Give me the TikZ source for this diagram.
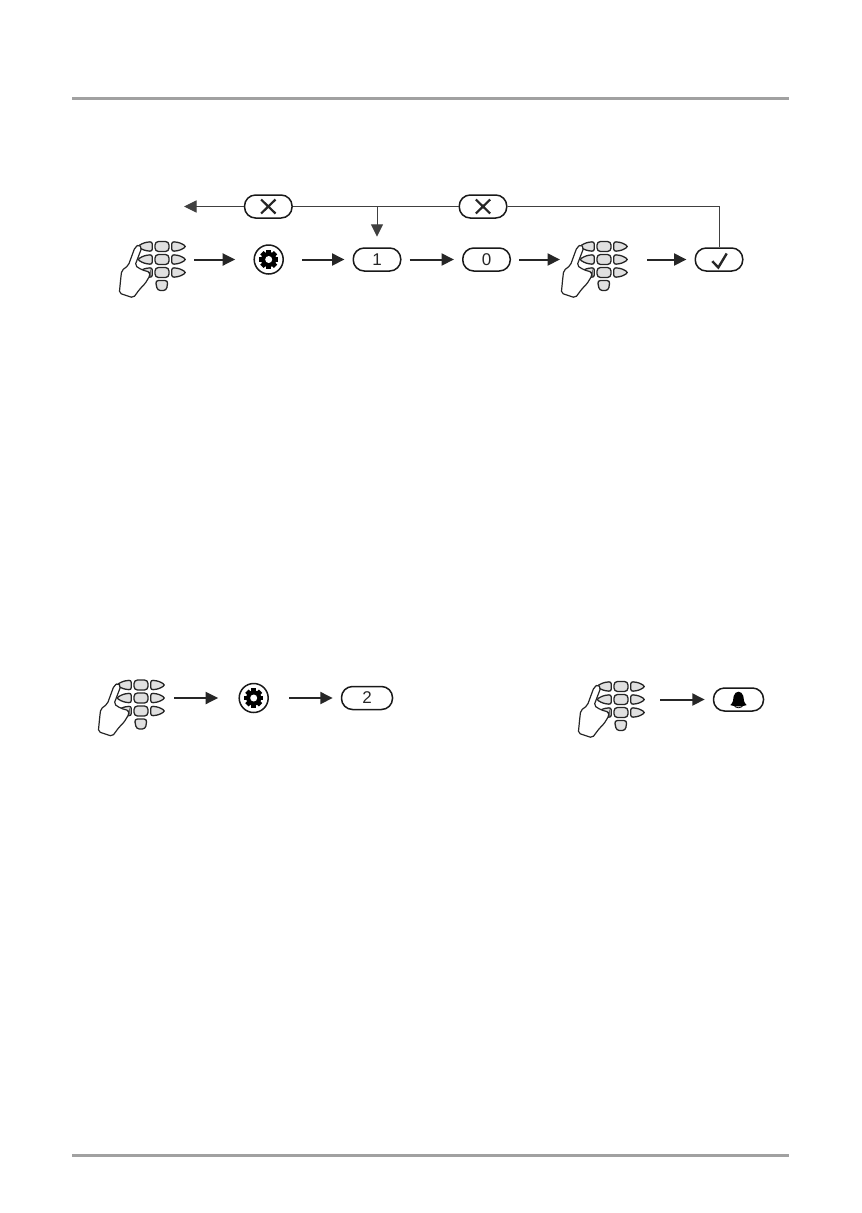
\documentclass[tikz,border=0pt]{standalone}
\usepackage{fontspec}
\setmainfont{Liberation Sans}
\usetikzlibrary{arrows.meta}
\definecolor{keygray}{gray}{0.88}
\definecolor{rulegray}{gray}{0.63}
\tikzset{
  flow/.style={-{Triangle[length=12.5pt,width=12pt]}, line width=2pt, black!85, shorten <=8pt, shorten >=8pt},
  thinflow/.style={-{Triangle[length=12.5pt,width=12pt]}, line width=1pt, black!75},
  thinline/.style={line width=1pt, black!75},
  keybtn/.style={draw=black!90, line width=1.5pt, rounded corners=11pt, minimum width=47.5pt, minimum height=23pt, inner sep=0pt, text=black!85, font=\fontsize{17}{19}\selectfont},
  gearbtn/.style={draw=black!90, circle, line width=1.5pt, minimum size=29pt, inner sep=0pt, outer sep=11pt},
  handbox/.style={minimum width=68pt, minimum height=20pt, inner sep=0pt, outer sep=0pt},
  keycap/.style={draw=black!85, fill=keygray, line width=1.3pt},
  keypad/.pic={
    \begin{scope}[shift={(10,0)}]
    % keys
    \foreach \y in {-13,0,13} {
      \draw[keycap, rounded corners=3.5pt] (-7,\y-5) rectangle (7,\y+5);
      \draw[keycap, rounded corners=2.5pt] (9.7,\y-5) -- (18,\y-3.8) -- (24.4,\y) -- (18,\y+3.8) -- (9.7,\y+5) -- cycle;
      \draw[keycap, rounded corners=2.5pt] (-9.7,\y-5) -- (-18,\y-3.8) -- (-24.8,\y) -- (-18,\y+3.8) -- (-9.7,\y+5) -- cycle;
    }
    \draw[keycap, rounded corners=3pt] (-6.6,21) -- (6,21) -- (4.4,31) -- (-4.6,31) -- cycle;
    % hand
    \draw[draw=black!85, fill=white, line width=1.2pt, rounded corners=2pt] (-42.7,33.7) -- (-41.3,19.3) -- (-40.3,11) -- (-33.7,6) -- (-27,-12.3) -- (-22.7,-15) -- (-20.3,-11.7) -- (-27,6) -- (-20.3,10.3) -- (-12,12.7) -- (-12,16) -- (-17,24.3) -- (-22,29.3) -- (-28.7,38.3) -- cycle;
    \end{scope}
  },
  gearicon/.pic={
    % gear wheel
    \foreach \a in {0,45,...,315} {
      \fill[black, rotate=\a] (-2.4,-9.6) rectangle (2.4,0);
    }
    \fill[black] (0,0) circle (7.6);
    \fill[white] (0,0) circle (3.5);
  },
  crossicon/.pic={
    \draw[line width=2.2pt, black!85] (-7.2,-7) -- (7.2,7) (-7.2,7) -- (7.2,-7);
  },
  checkicon/.pic={
    \draw[line width=2.4pt, black!85] (-6.7,1.7) -- (-0.7,8) -- (7.7,-6);
  },
  bellicon/.pic={
    \draw[line width=0.8pt, black, fill=white] (-5,5) .. controls (-3,9.4) and (3,9.4) .. (5,5);
    \fill[black] (-8.2,5.6) .. controls (-5,3) and (-5.4,0) .. (-4.8,-3.5) .. controls (-4.2,-6.4) and (-2,-7.6) .. (0,-7.8) .. controls (2,-7.6) and (4.2,-6.4) .. (4.8,-3.5) .. controls (5.4,0) and (5,3) .. (8.2,5.6) .. controls (3,7.4) and (-3,7.4) .. (-8.2,5.6) -- cycle;
  }
}
\begin{document}
\begin{tikzpicture}[x=1pt,y=-1pt]
\useasboundingbox (0,0) rectangle (862,1213);

% page rules
\draw[rulegray, line width=3.4pt] (72,98.5) -- (789,98.5);
\draw[rulegray, line width=3.4pt] (72,1155.5) -- (789,1155.5);

% upper sequence
\node[handbox] (handa) at (152,259.5) {};
\node[gearbtn] (geara) at (268.7,259.5) {};
\node[keybtn] (one) at (377,259.5) {1};
\node[keybtn] (zero) at (486.5,259.5) {0};
\node[handbox] (handb) at (594,259.5) {};
\node[keybtn] (confirm) at (719,259.5) {};
\node[keybtn] (cancela) at (268.3,206.5) {};
\node[keybtn] (cancelb) at (483,206.5) {};
\coordinate (exit) at (184,206.5);
\coordinate (back) at (one|-cancela);

\pic at (handa) {keypad};
\pic at (handb) {keypad};
\pic at (geara) {gearicon};
\pic at (confirm) {checkicon};
\pic at (cancela) {crossicon};
\pic at (cancelb) {crossicon};

\draw[flow] (handa) -- (geara);
\draw[flow] (geara) -- (one);
\draw[flow] (one) -- (zero);
\draw[flow, shorten >=0pt] (zero) -- (handb);
\draw[flow, shorten <=19pt] (handb) -- (confirm);

% return lines
\draw[thinline] (cancelb) -| (confirm);
\draw[thinline] (cancelb) -- (cancela);
\draw[thinflow] (cancela) -- (exit);
\draw[thinflow, shorten >=10.5pt] (back) -- (one);

% lower left sequence
\node[handbox] (handc) at (131,698) {};
\node[gearbtn, outer sep=13pt] (gearb) at (253.7,698) {};
\node[keybtn, minimum width=51pt] (two) at (367,698) {2};
\pic at (handc) {keypad};
\pic at (gearb) {gearicon};
\draw[flow, shorten <=9pt] (handc) -- (gearb);
\draw[flow] (gearb) -- (two);

% lower right sequence
\node[handbox] (handd) at (611,699.5) {};
\node[keybtn, minimum width=50pt] (bell) at (738.5,699.5) {};
\pic at (handd) {keypad};
\pic at (bell) {bellicon};
\draw[flow, shorten <=15pt] (handd) -- (bell);
\end{tikzpicture}
\end{document}
